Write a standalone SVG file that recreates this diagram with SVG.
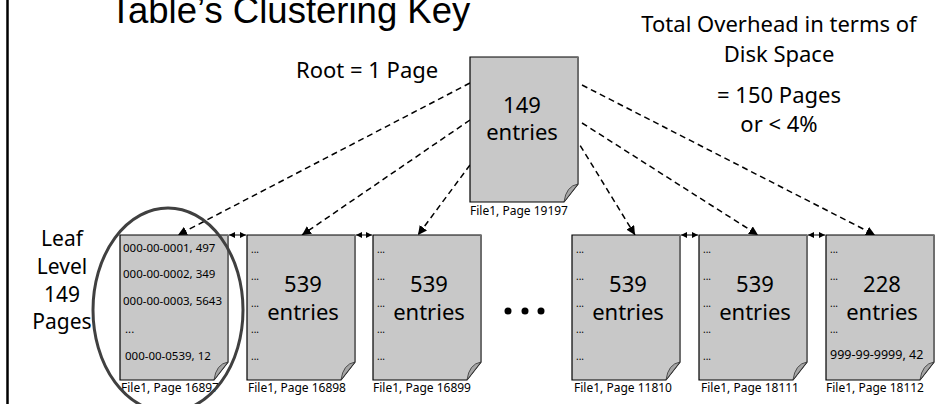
<svg xmlns="http://www.w3.org/2000/svg" xmlns:xlink="http://www.w3.org/1999/xlink" width="951" height="404" viewBox="0 0 951 404">
<style>
.t{font-family:"Noto Sans","Open Sans","DejaVu Sans",sans-serif;fill:#000}
.big{font-size:22px}
.mid{text-anchor:middle}
.dots{font-size:10px}
.lbl{font-size:12px}
.dash{stroke:#000;stroke-width:1.5;stroke-dasharray:6 4;fill:none}
.link{stroke:#000;stroke-width:1;fill:none}
</style>
<defs>
<marker id="arr" viewBox="0 0 10 10" refX="10" refY="5" markerWidth="9" markerHeight="9" markerUnits="userSpaceOnUse" orient="auto">
<path d="M0,0 L10,5 L0,10 Z" fill="#000"/>
</marker>
<marker id="sm" viewBox="0 0 10 10" refX="10" refY="5" markerWidth="6" markerHeight="6" markerUnits="userSpaceOnUse" orient="auto-start-reverse">
<path d="M0,0 L10,5 L0,10 Z" fill="#000"/>
</marker>
<g id="pg">
<path d="M0,0 H108 V127 L94,145 H0 Z" fill="#c8c8c8" stroke="#000" stroke-width="1.2"/>
<path d="M108,0 V127" stroke="#6e6e6e" stroke-width="2" fill="none"/>
<path d="M108,127 Q96,129 94,145 Z" fill="#a6a6a6" stroke="#333" stroke-width="0.8"/>
</g>
</defs>

<rect width="951" height="404" fill="#fff"/>
<line x1="7.5" y1="0" x2="7.5" y2="404" stroke="#000" stroke-width="2.5"/>

<text x="290" y="23" font-family="Liberation Sans, Arial, sans-serif" font-size="36.5" text-anchor="middle">Table’s Clustering Key</text>

<g id="notes" class="t big mid">
<text x="779" y="32">Total Overhead in terms of</text>
<text x="779" y="62">Disk Space</text>
<text x="779" y="103">= 150 Pages</text>
<text x="779" y="132">or &lt; 4%</text>
</g>
<text class="t big" x="296" y="78">Root = 1 Page</text>

<g id="leaf-label" class="t big mid" font-size="21">
<text x="62" y="246" style="font-size:21px">Leaf</text>
<text x="62" y="274" style="font-size:21px">Level</text>
<text x="62" y="302" style="font-size:21px">149</text>
<text x="62" y="329" style="font-size:21px">Pages</text>
</g>

<g id="connectors">
<path class="dash" d="M470,83 L178,235" marker-end="url(#arr)"/>
<path class="dash" d="M470,120 L302,235" marker-end="url(#arr)"/>
<path class="dash" d="M470,165 L418,235" marker-end="url(#arr)"/>
<path class="dash" d="M582,85 L875,235" marker-end="url(#arr)"/>
<path class="dash" d="M582,123 L758,235" marker-end="url(#arr)"/>
<path class="dash" d="M575,137 L635,235" marker-end="url(#arr)"/>
<path class="link" d="M229,235 L246,235" marker-start="url(#sm)" marker-end="url(#sm)"/>
<path class="link" d="M356,235 L372,235" marker-start="url(#sm)" marker-end="url(#sm)"/>
<path class="link" d="M681,235 L698,235" marker-start="url(#sm)" marker-end="url(#sm)"/>
<path class="link" d="M808,235 L825,235" marker-start="url(#sm)" marker-end="url(#sm)"/>
</g>

<g id="root">
<use xlink:href="#pg" x="470" y="57"/>
<text class="t big mid" x="522" y="113">149</text>
<text class="t big mid" x="522" y="140">entries</text>
<text class="t lbl" x="470" y="215">File1, Page 19197</text>
</g>

<g id="leaf1">
<use xlink:href="#pg" x="120" y="235"/>
<g class="t" style="font-size:11.5px">
<text x="123" y="252">000-00-0001, 497</text>
<text x="123" y="278">000-00-0002, 349</text>
<text x="123" y="305">000-00-0003, 5643</text>
<text x="125" y="333">...</text>
<text x="125" y="360">000-00-0539, 12</text>
</g>
<text class="t lbl" x="121" y="392">File1, Page 16897</text>
</g>

<g id="leaf2">
<use xlink:href="#pg" x="247" y="235"/>
<g class="t dots"><text x="251" y="253">...</text><text x="251" y="280">...</text><text x="251" y="307">...</text><text x="251" y="333">...</text><text x="251" y="360">...</text></g>
<text class="t big mid" x="303" y="292">539</text>
<text class="t big mid" x="303" y="320">entries</text>
<text class="t lbl" x="248" y="392">File1, Page 16898</text>
</g>

<g id="leaf3">
<use xlink:href="#pg" x="373" y="235"/>
<g class="t dots"><text x="377" y="253">...</text><text x="377" y="280">...</text><text x="377" y="307">...</text><text x="377" y="333">...</text><text x="377" y="360">...</text></g>
<text class="t big mid" x="429" y="292">539</text>
<text class="t big mid" x="429" y="320">entries</text>
<text class="t lbl" x="373" y="392">File1, Page 16899</text>
</g>

<g id="ellipsis">
<circle cx="508" cy="311" r="3.5" fill="#000"/>
<circle cx="525" cy="311" r="3.5" fill="#000"/>
<circle cx="541" cy="311" r="3.5" fill="#000"/>
</g>

<g id="leaf4">
<use xlink:href="#pg" x="572" y="235"/>
<g class="t dots"><text x="576" y="253">...</text><text x="576" y="280">...</text><text x="576" y="307">...</text><text x="576" y="333">...</text><text x="576" y="360">...</text></g>
<text class="t big mid" x="628" y="292">539</text>
<text class="t big mid" x="628" y="320">entries</text>
<text class="t lbl" x="574" y="392">File1, Page 11810</text>
</g>

<g id="leaf5">
<use xlink:href="#pg" x="699" y="235"/>
<g class="t dots"><text x="703" y="253">...</text><text x="703" y="280">...</text><text x="703" y="307">...</text><text x="703" y="333">...</text><text x="703" y="360">...</text></g>
<text class="t big mid" x="755" y="292">539</text>
<text class="t big mid" x="755" y="320">entries</text>
<text class="t lbl" x="701" y="392">File1, Page 18111</text>
</g>

<g id="leaf6">
<use xlink:href="#pg" x="826" y="235"/>
<g class="t dots"><text x="830" y="253">...</text><text x="830" y="280">...</text><text x="830" y="307">...</text><text x="830" y="333">...</text></g>
<text class="t" x="830" y="359" style="font-size:12.5px">999-99-9999, 42</text>
<text class="t big mid" x="882" y="292">228</text>
<text class="t big mid" x="882" y="320">entries</text>
<text class="t lbl" x="826" y="392">File1, Page 18112</text>
</g>

<ellipse id="highlight" cx="168" cy="310" rx="75" ry="102" fill="none" stroke="#404040" stroke-width="3"/>
</svg>
